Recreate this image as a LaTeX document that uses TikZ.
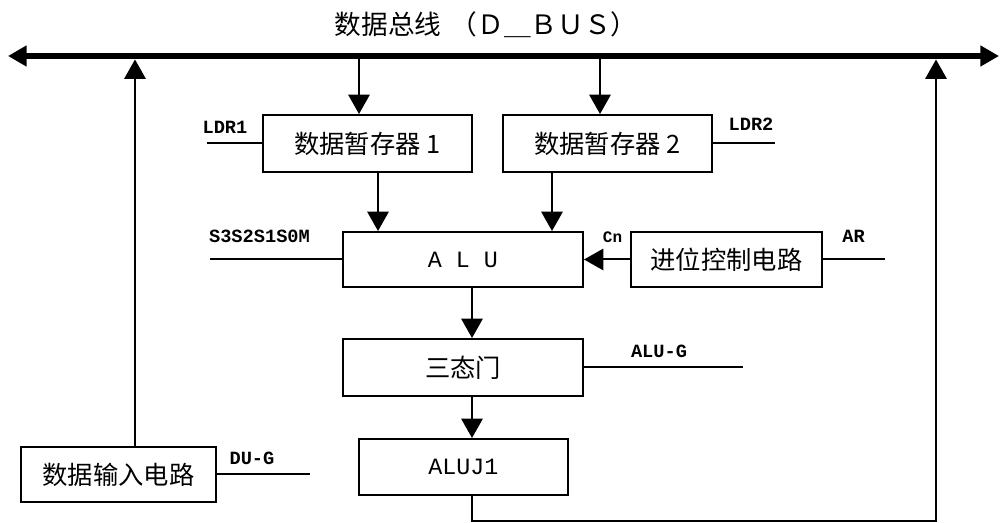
\documentclass[tikz,border=0pt]{standalone}
\usepackage{fontspec}
\newfontfamily\cjk{Noto Sans CJK SC}
\newfontfamily\mono{Liberation Mono}
\usetikzlibrary{arrows.meta}
\begin{document}
\begin{tikzpicture}[x=0.75pt,y=-0.75pt,
  box/.style={draw,line width=1.5pt,inner sep=0pt,font=\cjk\fontsize{19}{20}\selectfont},
  latinbox/.style={box,font=\mono\fontsize{17.5}{18}\selectfont},
  lab/.style={font=\mono\bfseries\fontsize{14}{15}\selectfont,inner sep=0pt},
  wire/.style={line width=1.5pt},
  arr/.style={line width=1.5pt,-{Triangle[length=14.5pt,width=16pt]}},
  bus/.style={line width=4.5pt,{Triangle[length=14pt,width=15pt]}-{Triangle[length=14pt,width=15pt]}}]
\useasboundingbox (0,0) rectangle (1000,523);

% title
\node[font=\cjk\fontsize{20}{21}\selectfont,inner sep=0pt] (title) at (486,25) {数据总线\hspace{7pt}（Ｄ＿ＢＵＳ）};

% bus
\coordinate (busL) at (8,56);
\coordinate (busR) at (999,56);
\draw[bus] (busL) -- (busR);

% boxes
\node[box,minimum width=156.75pt,minimum height=42.75pt] (reg1) at (367.5,143.5) {数据暂存器 1};
\node[box,minimum width=156.75pt,minimum height=42.75pt] (reg2) at (607.5,143.5) {数据暂存器 2};
\node[latinbox,minimum width=180pt,minimum height=41.25pt] (alu) at (463,259.5) {A L U};
\node[box,minimum width=143.25pt,minimum height=41.25pt] (carry) at (726.5,259.5) {进位控制电路};
\node[box,minimum width=180pt,minimum height=42.75pt] (tri) at (463,367.5) {三态门};
\node[latinbox,minimum width=156.75pt,minimum height=42pt] (aluj) at (463.5,467) {ALUJ1};
\node[box,minimum width=146.25pt,minimum height=41.25pt] (inp) at (118.5,474.5) {数据输入电路};

% labels
\node[lab] (ldr1) at (225,127) {LDR1};
\node[lab] (ldr2) at (751,124) {LDR2};
\node[lab] (sel) at (259.5,236) {S3S2S1S0M};
\node[lab,font=\mono\bfseries\fontsize{12}{13}\selectfont] (cn) at (612.5,237) {Cn};
\node[lab] (ar) at (853.5,236) {AR};
\node[lab] (alug) at (659,351) {ALU-G};
\node[lab] (dug) at (252,458.5) {DU-G};

% control line ends
\coordinate (ldr1e) at (207,143.5);
\coordinate (ldr2e) at (775,143.5);
\coordinate (sele) at (210,259.5);
\coordinate (are) at (885,259.5);
\coordinate (aluge) at (743,367.5);
\coordinate (duge) at (310,474.5);

\draw[wire] (ldr1e) -- (reg1.west);
\draw[wire] (reg2.east) -- (ldr2e);
\draw[wire] (sele) -- (alu.west);
\draw[wire] (carry.east) -- (are);
\draw[wire] (tri.east) -- (aluge);
\draw[wire] (inp.east) -- (duge);

% data path coordinates
\coordinate (d1) at (359,56);
\coordinate (d2) at (600,56);
\coordinate (c1) at (378,0);
\coordinate (c2) at (552,0);
\coordinate (mid) at (472,0);
\coordinate (u1) at (135,59.5);
\coordinate (u2) at (936,59.5);
\coordinate (bl) at (472,521);
\coordinate (br) at (936,521);

\draw[arr] (d1) -- (reg1.north -| d1);
\draw[arr] (d2) -- (reg2.north -| d2);
\draw[arr] (reg1.south -| c1) -- (alu.north -| c1);
\draw[arr] (reg2.south -| c2) -- (alu.north -| c2);
\draw[arr] (carry.west) -- (alu.east);
\draw[arr] (alu.south -| mid) -- (tri.north -| mid);
\draw[arr] (tri.south -| mid) -- (aluj.north -| mid);
\draw[arr] (inp.north -| u1) -- (u1);
\draw[arr] (aluj.south -| mid) -- (bl) -- (br) -- (u2);
\end{tikzpicture}
\end{document}
